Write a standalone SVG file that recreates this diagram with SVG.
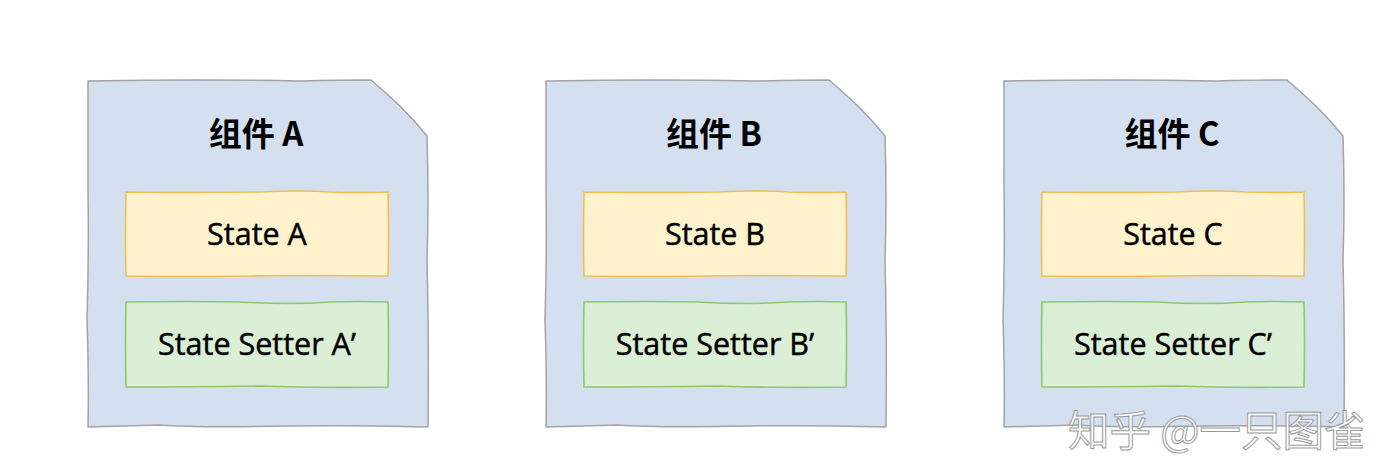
<svg xmlns="http://www.w3.org/2000/svg" xmlns:xlink="http://www.w3.org/1999/xlink" width="1386" height="472" viewBox="0 0 1386 472">
<style>
.outer{fill:#d4dff0;stroke:#a3a3a3;stroke-width:1.5;stroke-linejoin:round}
.state{fill:#fff2cc;stroke:#f0c04e;stroke-width:1.6}
.setter{fill:#dbeed6;stroke:#8acb66;stroke-width:1.6}
.title{font-family:"Noto Sans CJK SC","Noto Sans",sans-serif;font-weight:700;font-size:33px;fill:#000;text-anchor:middle}
.lbl{font-family:"Open Sans","Noto Sans",sans-serif;font-size:30.5px;fill:#000;stroke:#000;stroke-width:0.45;text-anchor:middle}
.wm{font-family:"Noto Sans CJK SC",sans-serif;font-size:41.5px;fill:#ffffff;stroke:#9a9a9a;stroke-width:1;fill-opacity:0.9}
</style>
<defs>
<path id="outerShape" d="M88,81 Q200,79 300,81 Q340,80 371,80 Q385,92 400,106 Q415,121 427,136 Q429,200 427,260 Q429,340 428,427 Q350,425 290,426 Q200,428 160,425 Q120,426 88,427 Q89,380 87,320 Q89,250 88,190 Q88,130 88,81 Z"/>
<path id="stateShape" d="M126,192 Q200,193 260,192 Q300,190 330,192 Q360,193 388,192 Q389,230 388,276 Q300,275 250,276 Q180,277 126,276 Q125,240 126,192 Z"/>
<path id="setterShape" d="M126,302 Q190,301 240,302 Q290,305 330,302 Q360,301 388,302 Q389,340 388,387 Q320,388 260,386 Q190,387 126,387 Q125,345 126,302 Z"/>
</defs>
<g id="connectors"></g>
<g id="nodeA">
<use xlink:href="#outerShape" class="outer"/>
<text class="title" x="256" y="146">组件 A</text>
<use xlink:href="#stateShape" class="state"/>
<text class="lbl" x="257" y="245">State A</text>
<use xlink:href="#setterShape" class="setter"/>
<text class="lbl" x="257" y="355">State Setter A’</text>
</g>
<g id="nodeB" transform="translate(458,0)">
<use xlink:href="#outerShape" class="outer"/>
<text class="title" x="256" y="146">组件 B</text>
<use xlink:href="#stateShape" class="state"/>
<text class="lbl" x="257" y="245">State B</text>
<use xlink:href="#setterShape" class="setter"/>
<text class="lbl" x="257" y="355">State Setter B’</text>
</g>
<g id="nodeC" transform="translate(916,0)">
<use xlink:href="#outerShape" class="outer"/>
<text class="title" x="256" y="146">组件 C</text>
<use xlink:href="#stateShape" class="state"/>
<text class="lbl" x="257" y="245">State C</text>
<use xlink:href="#setterShape" class="setter"/>
<text class="lbl" x="257" y="355">State Setter C’</text>
</g>
<text class="wm" x="1068" y="446">知乎 @一只图雀</text>
</svg>
